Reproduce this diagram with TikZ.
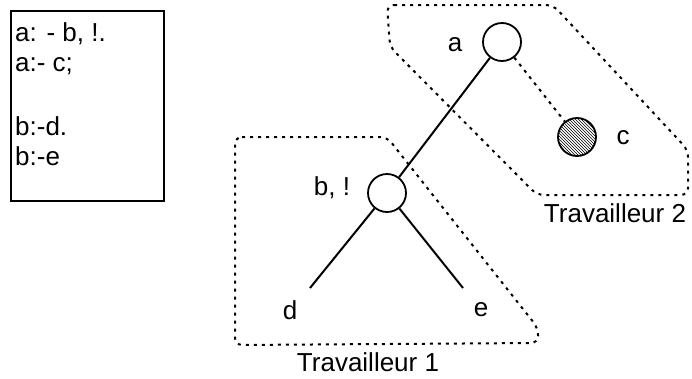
\documentclass[tikz,border=0pt]{standalone}
\usepackage{fontspec}
\setmainfont{Liberation Sans}
\usetikzlibrary{patterns}

\tikzset{
	vertex/.style={circle, draw, line width=1.8pt, fill=white, minimum size=38pt, inner sep=0pt},
	dots/.style={line width=2pt, dash pattern=on 3pt off 5pt},
	lbl/.style={font=\fontsize{26}{26}\selectfont, inner sep=0pt}
}

\begin{document}
\begin{tikzpicture}[x=1pt, y=-1pt]
	\useasboundingbox (0,0) rectangle (692,378);

	% program clauses
	\node (prog) [draw, line width=1.8pt, minimum width=153pt, minimum height=190pt, anchor=north west, inner sep=0pt] at (10,10) {};
	\node (rules) [lbl, anchor=north west, align=left] at (15,22) {a: - b, !.\\[4pt]a:- c;\\[38pt]b:-d.\\[4pt]b:-e};

	% workers
	\draw[dots, rounded corners=7pt] (387,5) -- (553,5) -- (688,150) -- (688,195) -- (537,195) -- (390,47) -- cycle;
	\draw[dots, rounded corners=7pt] (235,137) -- (387,137) -- (538,328) -- (538,343) -- (235,345) -- cycle;
	\node (w2) [lbl] at (615,213) {Travailleur 2};
	\node (w1) [lbl] at (368,362) {Travailleur 1};

	% tree
	\node (a) [vertex] at (502,42) {};
	\node (b) [vertex] at (387,193) {};
	\node (c) [vertex, pattern=north west lines] at (577,137) {};
	\coordinate (d) at (310,288);
	\coordinate (e) at (463,288);

	\draw[line width=2pt] (a) -- (b);
	\draw[line width=2pt] (b) -- (d);
	\draw[line width=2pt] (b) -- (e);
	\draw[dots] (a) -- (c);

	\node (la) [lbl] at (455,45) {a};
	\node (lb) [lbl] at (332,188) {b, !};
	\node (lc) [lbl] at (623,138) {c};
	\node (ld) [lbl] at (290,310) {d};
	\node (le) [lbl] at (481,310) {e};
\end{tikzpicture}
\end{document}
